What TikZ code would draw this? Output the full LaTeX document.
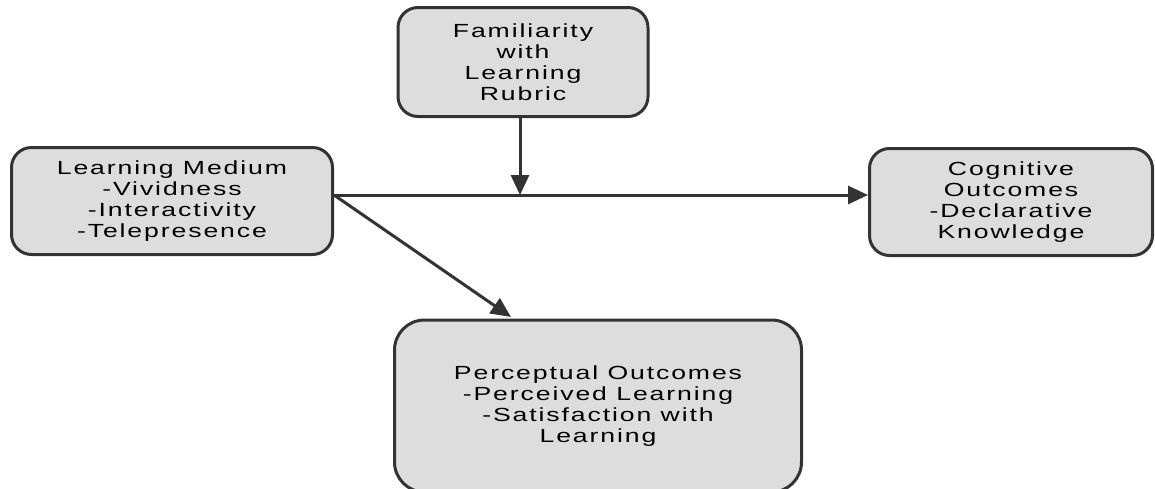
\documentclass[tikz,border=0pt]{standalone}
\usepackage{fontspec}
\newfontfamily\boxfont[FakeStretch=1.4,LetterSpace=10]{Liberation Sans}
\usetikzlibrary{arrows.meta}
\definecolor{linegray}{HTML}{333333}
\definecolor{boxgray}{HTML}{DDDDDD}

\begin{document}
\begin{tikzpicture}[x=1pt,y=-1pt,
  box/.style={draw=linegray,line width=3pt,fill=boxgray,rounded corners=20pt,
    align=center,inner sep=0pt,font=\boxfont\fontsize{19}{21}\selectfont},
  link/.style={draw=linegray,line width=3pt,-{Triangle[length=20pt,width=18pt]}}]
\useasboundingbox (0,0) rectangle (1155,488);
\node[box,minimum width=250pt,minimum height=109pt] (fam) at (523,62)
  {Familiarity\\with\\Learning\\Rubric};
\node[box,minimum width=321pt,minimum height=107pt] (lm) at (172,201)
  {Learning Medium\\-Vividness\\-Interactivity\\-Telepresence};
\node[box,minimum width=283pt,minimum height=107pt] (co) at (1011,202)
  {Cognitive\\Outcomes\\-Declarative\\Knowledge};
\node[box,rounded corners=30pt,minimum width=407pt,minimum height=172pt] (po) at (598,406)
  {Perceptual Outcomes\\-Perceived Learning\\-Satisfaction with\\Learning};
\coordinate (join) at (520,195);
\coordinate (pin) at (511,317);
\draw[link] (fam.south -| join) -- (join);
\draw[link] (lm.east |- join) -- (co.west |- join);
\draw[link] (lm.east |- join) -- (pin);
\end{tikzpicture}
\end{document}
